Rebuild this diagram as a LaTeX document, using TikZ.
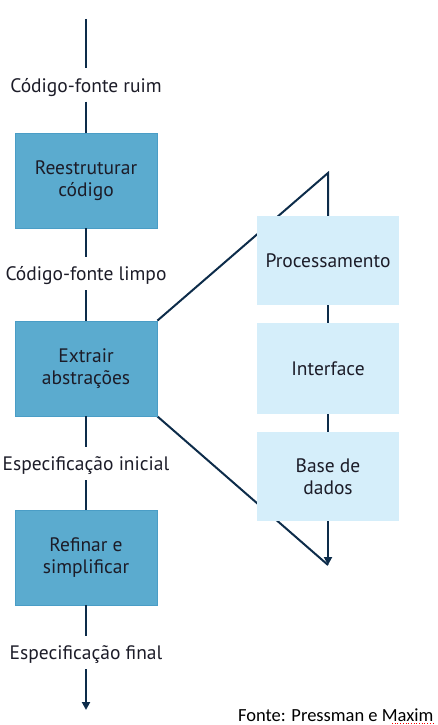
\documentclass[tikz,border=0pt]{standalone}
\usepackage{fontspec}
\setmainfont{PT Sans}
\newfontfamily\fontefont{Carlito}
\usetikzlibrary{arrows.meta,backgrounds}
\definecolor{linecol}{HTML}{0D2C4A}
\definecolor{darkbox}{HTML}{5BABCF}
\definecolor{darkboxedge}{HTML}{4A9DC6}
\definecolor{lightbox}{HTML}{D5EEFA}
\definecolor{txtcol}{HTML}{1C1C28}
\tikzset{
  conn/.style={draw=linecol, line width=2pt},
  arr/.style={conn, -{Triangle[width=8pt,length=8pt]}},
  mainbox/.style={draw=darkboxedge, line width=0.8pt, fill=darkbox, minimum width=142pt, minimum height=95pt, inner sep=0pt, align=center, text=txtcol, font=\fontsize{19.5}{22}\selectfont},
  sidebox/.style={fill=lightbox, minimum width=142pt, minimum height=89pt, inner sep=0pt, align=center, text=txtcol, font=\fontsize{19.5}{22}\selectfont},
  lab/.style={minimum height=33pt, inner sep=0pt, text depth=0pt, text=txtcol, font=\fontsize{19.5}{22}\selectfont}
}
\begin{document}
\begin{tikzpicture}[x=1pt,y=-1pt]
\useasboundingbox (0,0) rectangle (438,725);
% left column
\coordinate (start) at (86,19);
\node[lab] (l1) at (86,85) {Código-fonte ruim};
\node[mainbox] (b1) at (86,180.5) {Reestruturar\\código};
\node[lab] (l2) at (86,273.5) {Código-fonte limpo};
\node[mainbox] (b2) at (86,368.5) {Extrair\\abstrações};
\node[lab] (l3) at (86,463.5) {Especificação inicial};
\node[mainbox] (b3) at (86,557.5) {Refinar e\\simplificar};
\node[lab] (l4) at (86,652.5) {Especificação final};
\coordinate (end) at (86,710);
\draw[conn] (start) -- (l1);
\draw[conn] (l1) -- (b1);
\draw[conn] (b1) -- (l2);
\draw[conn] (l2) -- (b2);
\draw[conn] (b2) -- (l3);
\draw[conn] (l3) -- (b3);
\draw[conn] (b3) -- (l4);
\draw[arr] (l4) -- (end);
% right side
\coordinate (apex) at (328,173);
\coordinate (tip) at (328,565);
\node[sidebox] (p) at (328,260.5) {Processamento};
\node[sidebox, minimum height=91pt] (i) at (328,368.5) {Interface};
\node[sidebox] (d) at (328,476.5) {Base de\\dados};
\begin{scope}[on background layer]
\draw[conn, line join=miter] (b2.north east) -- (apex) -- (p.north);
\draw[conn] (b2.south east) -- (tip);
\end{scope}
\draw[conn] (p) -- (i);
\draw[conn] (i) -- (d);
\draw[arr] (d) -- (tip);
% source
\node[anchor=base west, inner sep=0pt, text=black, font=\fontefont\fontsize{18.5}{22}\selectfont] (src) at (238,721) {Fonte: Pressman e Maxim};
\draw[red, dotted, line width=0.7pt] (392,723.8) -- (434,723.8);
\end{tikzpicture}
\end{document}
